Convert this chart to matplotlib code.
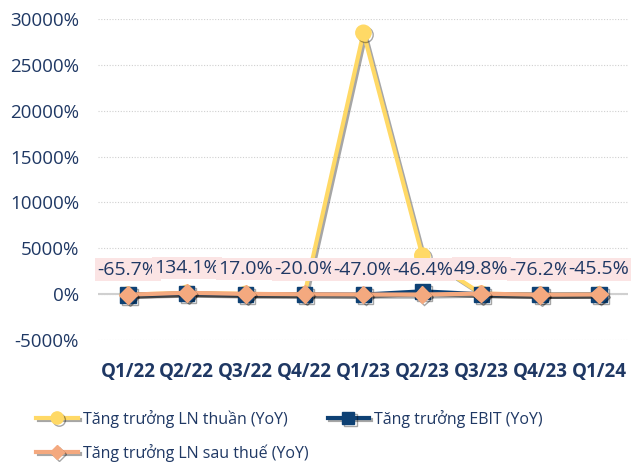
"""
Tăng trưởng lợi nhuận theo quý (YoY).
"""

import matplotlib.pyplot as plt
import matplotlib.patheffects as pe

quarters = ["Q1/22", "Q2/22", "Q3/22", "Q4/22", "Q1/23", "Q2/23", "Q3/23", "Q4/23", "Q1/24"]

# Values in percent
ln_thuan = [-60.0, 130.0, 20.0, -30.0, 28500.0, 4200.0, 50.0, -80.0, -50.0]
ebit = [-90.0, 60.0, -40.0, -30.0, -60.0, 300.0, -20.0, -70.0, -50.0]
ln_sau_thue = [-65.7, 134.1, 17.0, -20.0, -47.0, -46.4, 49.8, -76.2, -45.5]

yticks = [-5000, 0, 5000, 10000, 15000, 20000, 25000, 30000]

navy_text = "#1f3864"
yellow = "#ffd966"
navy = "#0e4174"
salmon = "#f4a97f"

plt.rcParams["font.family"] = ["Open Sans", "DejaVu Sans"]

fig = plt.figure(figsize=(6.31, 4.65), dpi=100)
ax = fig.add_axes([0.156, 0.269, 0.84, 0.69])

x = list(range(len(quarters)))
shadow = [pe.SimpleLineShadow(offset=(1.5, -1.5), alpha=0.35), pe.Normal()]

l1, = ax.plot(x, ln_thuan, color=yellow, lw=3, marker="o", ms=11,
              label="Tăng trưởng LN thuần (YoY)", path_effects=shadow, zorder=3)
l2, = ax.plot(x, ebit, color=navy, lw=3, marker="s", ms=11,
              label="Tăng trưởng EBIT (YoY)", path_effects=shadow, zorder=4)
l3, = ax.plot(x, ln_sau_thue, color=salmon, lw=3, marker="D", ms=9,
              label="Tăng trưởng LN sau thuế (YoY)", path_effects=shadow, zorder=5)

for xi, v in zip(x, ln_sau_thue):
    ax.annotate(f"{v:.1f}%", (xi, v), xytext=(0, 18), textcoords="offset points",
                ha="center", va="center", fontsize=14, color=navy_text, zorder=6,
                bbox=dict(boxstyle="square,pad=0.12", fc="#fbe4e4", ec="none"))

ax.set_xlim(-0.5, len(quarters) - 0.5)
ax.set_ylim(-5000, 30000)
ax.set_yticks(yticks)
ax.set_yticklabels([f"{t}%" for t in yticks])
ax.set_xticks(x)
ax.set_xticklabels(quarters, fontweight="bold")
ax.tick_params(axis="both", length=0, labelsize=13.5, colors=navy_text)
ax.tick_params(axis="x", pad=16)
ax.tick_params(axis="y", pad=14)

ax.grid(axis="y", color="#d0d0d0", linestyle=(0, (1, 1.5)), linewidth=0.8)
ax.axhline(0, color="#d0d0d0", lw=1.5, zorder=1)
for s in ax.spines.values():
    s.set_visible(False)

# column-first fill, so order gives row 1: LN thuần, EBIT; row 2: LN sau thuế
fig.legend([l1, l3, l2], [l1.get_label(), l3.get_label(), l2.get_label()],
           loc="upper left", bbox_to_anchor=(0.035, 0.15), ncol=2, frameon=False,
           fontsize=11.5, labelcolor=navy_text, handlelength=2.6, handletextpad=0.3,
           columnspacing=1.2, labelspacing=1.0, markerscale=0.8)

plt.savefig("out.png")
